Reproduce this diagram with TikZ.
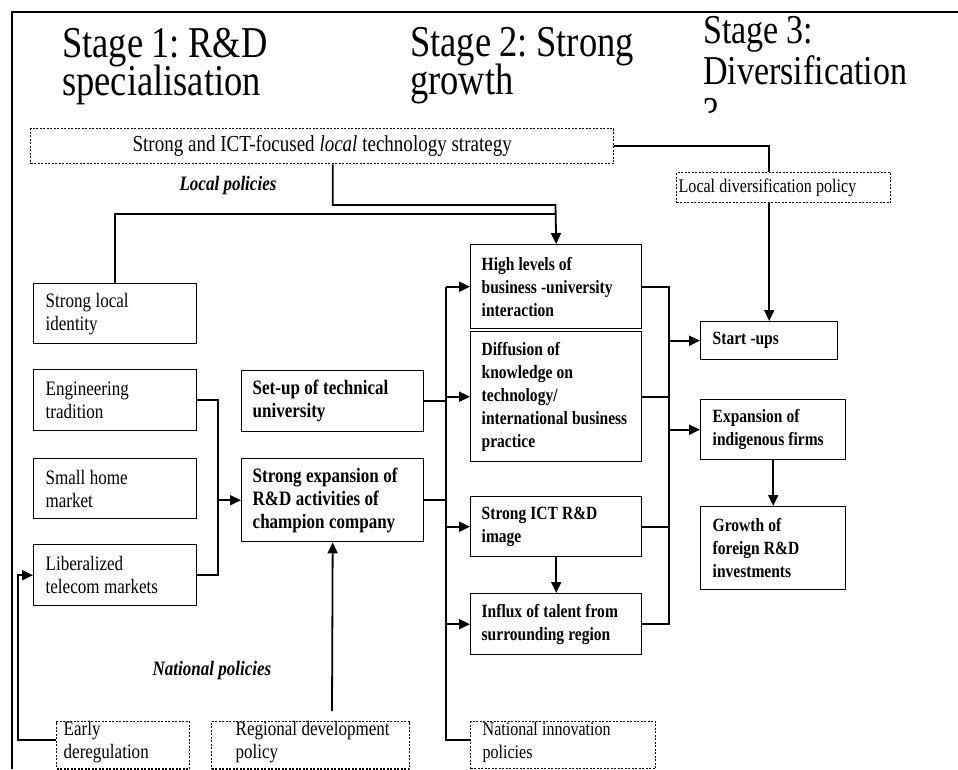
\documentclass[tikz,border=0pt]{standalone}
\usepackage{fontspec}
\setmainfont{Liberation Serif}[FakeStretch=0.83]
\usetikzlibrary{arrows.meta}
\begin{document}
\begin{tikzpicture}[x=1pt,y=-1pt,
  conn/.style={line width=1.8pt},
  arr/.style={conn,-{Triangle[length=11pt,width=10pt]}},
  bx/.style={draw,line width=1.4pt,anchor=north west,align=left,inner ysep=0pt,
    execute at begin node={\spaceskip=0.22em plus 0.05em\relax}},
  dbx/.style={bx,dash pattern=on 2pt off 1.5pt},
  reg/.style={font=\fontsize{20.5}{23}\selectfont},
  regs/.style={font=\fontsize{19.3}{23}\selectfont},
  bldm/.style={font=\fontsize{20.5}{23}\selectfont\bfseries},
  bldr/.style={font=\fontsize{18.7}{23}\selectfont\bfseries},
  lbl/.style={anchor=base,inner sep=0pt,font=\fontsize{20.5}{23}\selectfont\bfseries\itshape},
  ttl/.style={anchor=base west,align=left,inner sep=0pt}
]
\useasboundingbox (0,0) rectangle (958,769);
\clip (0,0) rectangle (958,769);

% frame
\draw[line width=2pt] (12,769) -- (12,12) -- (958,12);

% titles (base anchor = baseline of the last line)
\node[ttl,font={\fontsize{44}{38}\selectfont\lineskiplimit=-100pt}] (t1) at (62,95) {{\spaceskip=0.19em\xspaceskip=0.19em\relax Stage 1: R\&D}\\specialisation};
\node[ttl,font={\fontsize{44}{38}\selectfont\lineskiplimit=-100pt}] (t2) at (410,94) {{\spaceskip=0.19em\xspaceskip=0.19em\relax Stage 2: Strong}\\growth};
\begin{scope}
  \clip (690,0) rectangle (958,112);
  \node[ttl,font={\fontsize{41}{41}\selectfont\lineskiplimit=-100pt}] (t3) at (703,125) {{\spaceskip=0.19em\xspaceskip=0.19em\relax Stage 3:}\\Diversification\\?};
\end{scope}

% policy boxes
\node[dbx,minimum width=583,minimum height=35,text width=570,inner xsep=6.5,align=center,font=\fontsize{22.9}{23}\selectfont] (strat) at (30,128) {\spaceskip=0.21em\relax Strong and ICT-focused \textit{local} technology strategy};
\node[dbx,regs,minimum width=214,minimum height=30,text width=210,inner xsep=2] (ldiv) at (676,172) {Local diversification policy};
\node[dbx,reg,minimum width=133,minimum height=47,text width=119,inner xsep=7] (early) at (56,721) {Early\\deregulation\rule[-10pt]{0pt}{0pt}};
\node[dbx,reg,minimum width=198,minimum height=47,text width=150,inner xsep=24] (regional) at (211,721) {\mbox{Regional development}\\policy\rule[-10pt]{0pt}{0pt}};
\node[dbx,regs,minimum width=185,minimum height=47,text width=161,inner xsep=12] (natinn) at (470,721) {National innovation\\policies\rule[-10pt]{0pt}{0pt}};

% labels
\node[lbl] (lp) at (228,190) {Local policies};
\node[lbl] (np) at (212,675) {National policies};

% left boxes
\node[bx,reg,minimum width=163,minimum height=60,text width=139,inner xsep=12] (ident) at (33,283) {Strong local\\identity};
\node[bx,reg,minimum width=163,minimum height=61,text width=139,inner xsep=12] (eng) at (33,369) {Engineering\\tradition};
\node[bx,reg,minimum width=163,minimum height=60,text width=139,inner xsep=12] (small) at (33,458) {Small home\\market};
\node[bx,reg,minimum width=163,minimum height=61,text width=139,inner xsep=12] (lib) at (33,544) {Liberalized\\telecom markets};

% middle boxes
\node[bx,bldm,minimum width=182,minimum height=61,text width=160,inner xsep=11] (setup) at (241,370) {Set-up of technical\\university};
\node[bx,bldm,minimum width=182,minimum height=83,text width=160,inner xsep=11] (champ) at (241,458) {Strong expansion of\\R\&D activities of\\champion company};

% stage 2 boxes
\node[bx,bldr,minimum width=171,minimum height=84,text width=149,inner xsep=11] (high) at (470,244) {High levels of\\business -university\\interaction};
\node[bx,bldr,minimum width=171,minimum height=130,text width=149,inner xsep=11] (diff) at (470,331) {Diffusion of\\knowledge on\\technology/\\\mbox{international business}\\practice};
\node[bx,bldr,minimum width=171,minimum height=60,text width=149,inner xsep=11] (ict) at (470,496) {Strong ICT R\&D\\image};
\node[bx,bldr,minimum width=171,minimum height=61,text width=149,inner xsep=11] (influx) at (470,593) {Influx of talent from\\surrounding region};

% stage 3 boxes
\node[bx,bldr,minimum width=137,minimum height=38,text width=113,inner xsep=12] (start) at (700,321) {Start -ups};
\node[bx,bldr,minimum width=145,minimum height=60,text width=121,inner xsep=12] (expand) at (700,399) {Expansion of\\indigenous firms};
\node[bx,bldr,minimum width=145,minimum height=83,text width=121,inner xsep=12] (growth) at (700,506) {Growth of\\foreign R\&D\\investments};

% helper coordinates
\coordinate (jA) at (555.5,205);
\coordinate (jB) at (555.5,214);
\coordinate (mL) at (218,0);
\coordinate (tL) at (446,0);
\coordinate (tR) at (669,0);
\coordinate (nb) at (446,740);
\coordinate (eL) at (18,740);
\coordinate (rg) at (332,711);

% connectors: local policies
\draw[arr] (strat.south -| champ.north) |- (jA) -- (high.north);
\draw[conn] (ident.north) |- (jB);
\draw[conn] (strat.east) -| (ldiv.north -| start.north);
\draw[arr] (ldiv.south -| start.north) -- (start.north);

% stage 1 merge
\draw[conn] (eng.east) -| (mL |- lib.east) -- (lib.east);
\draw[arr] (mL |- champ.west) -- (champ.west);

% left trunk
\draw[conn] (setup.east) -- (tL |- setup.east);
\draw[conn] (champ.east) -- (tL |- champ.east);
\draw[conn] (tL |- high.west) -- (nb) -- (nb -| natinn.west);
\draw[arr] (tL |- high.west) -- (high.west);
\draw[arr] (tL |- diff.west) -- (diff.west);
\draw[arr] (tL |- ict.west) -- (ict.west);
\draw[arr] (tL |- influx.west) -- (influx.west);

% right trunk
\draw[conn] (high.east) -| (tR |- influx.east) -- (influx.east);
\draw[conn] (diff.east) -- (tR |- diff.east);
\draw[conn] (ict.east) -- (tR |- ict.east);
\draw[arr] (tR |- start.west) -- (start.west);
\draw[arr] (tR |- expand.west) -- (expand.west);

% vertical arrows
\draw[arr] (expand.south) -- (growth.north);
\draw[arr] (ict.south) -- (influx.north);
\draw[arr] (rg) -- (champ.south);
\draw[arr] (eL -| early.west) -- (eL) |- (lib.west);
\end{tikzpicture}
\end{document}
